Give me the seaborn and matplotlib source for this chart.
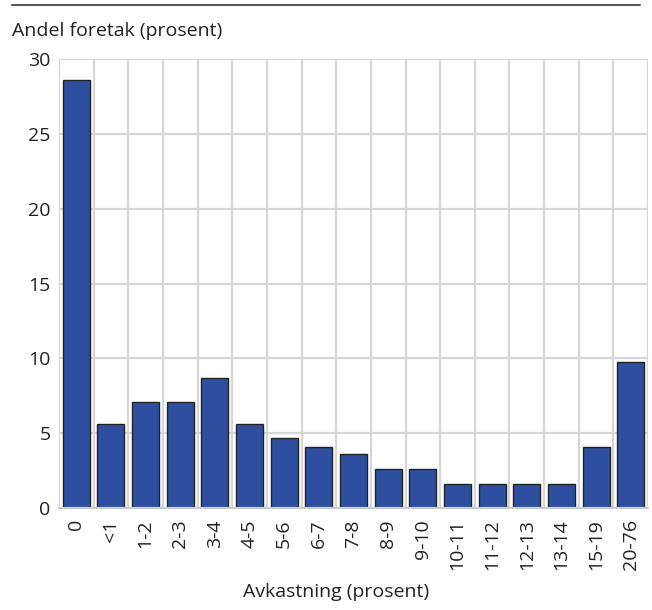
# Avkastning - andel foretak
import matplotlib
matplotlib.use('Agg')
import matplotlib.pyplot as plt
import seaborn as sns
import pandas as pd
from matplotlib.lines import Line2D

sns.set_theme(style='whitegrid')
plt.rcParams['font.family'] = ['Open Sans', 'DejaVu Sans']

# data
categories = ['0', '<1', '1-2', '2-3', '3-4', '4-5', '5-6', '6-7', '7-8', '8-9',
              '9-10', '10-11', '11-12', '12-13', '13-14', '15-19', '20-76']
shares = [28.6, 5.6, 7.1, 7.1, 8.7, 5.6, 4.7, 4.1, 3.6, 2.6,
          2.6, 1.6, 1.6, 1.6, 1.6, 4.1, 9.75]
yticks = [0, 5, 10, 15, 20, 25, 30]

df = pd.DataFrame({'kategori': categories, 'andel': shares})

fig = plt.figure(figsize=(6.52, 6.1), dpi=100)
ax = fig.add_axes([0.0905, 0.167, 0.9035, 0.736])

sns.barplot(data=df, x='kategori', y='andel', color='#2e4fa0', saturation=1,
            edgecolor='#222222', linewidth=1.0, width=0.78, ax=ax)

ax.set_ylim(0, 30)
ax.set_xlim(-0.5, len(categories) - 0.5)
ax.set_yticks(yticks)
ax.set_xticks([i - 0.5 for i in range(len(categories) + 1)], minor=True)
ax.set_xticks(range(len(categories)))
ax.set_xticklabels(categories, rotation=90)
ax.grid(False)
ax.grid(True, axis='y', which='major', color='#d6d6d6', linewidth=1.6)
ax.grid(True, axis='x', which='minor', color='#d6d6d6', linewidth=1.6)
ax.set_axisbelow(True)
for s in ax.spines.values():
    s.set_visible(False)
ax.spines['bottom'].set_visible(True)
ax.spines['bottom'].set_color('#cccccc')
ax.spines['bottom'].set_linewidth(1.6)
ax.tick_params(axis='x', which='both', length=0, labelsize=14, colors='#222222', pad=8)
ax.tick_params(axis='y', which='both', length=0, labelsize=14, colors='#222222', pad=6)

ax.set_ylabel('')
ax.set_xlabel('')
fig.text(0.516, 0.03, 'Avkastning (prosent)', fontsize=14, color='#222222', va='center', ha='center')

fig.text(0.018, 0.95, 'Andel foretak (prosent)', fontsize=14, color='#222222', va='center', ha='left')
fig.add_artist(Line2D([0.018, 0.982], [0.991, 0.991], transform=fig.transFigure,
                      color='#555555', linewidth=1.5))

fig.savefig('out.png', dpi=100)
